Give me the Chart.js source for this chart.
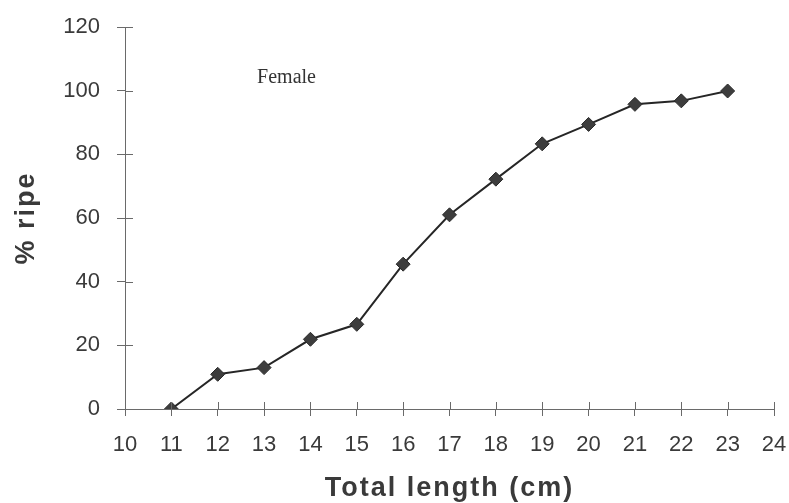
<!DOCTYPE html>
<html>
<head>
<meta charset="utf-8">
<script src="https://cdn.jsdelivr.net/npm/chart.js@4"></script>
<style>
    html, body { margin: 0; padding: 0; background: #fff; }
    #wrap { width: 789px; height: 503px; }
</style>
</head>
<body>
<div id="wrap"><canvas id="ripeChart" width="789" height="503"></canvas></div>
<script>
// total length classes (cm) and share of ripe females (%)
const lengthCm = [11, 12, 13, 14, 15, 16, 17, 18, 19, 20, 21, 22, 23];
const ripePct = [0, 10.9, 13.0, 21.9, 26.6, 45.5, 61.0, 72.2, 83.3, 89.4, 95.7, 96.8, 99.9];
const xRange = [10, 24];
const yRange = [0, 120];
const seriesLabel = 'Female';

const axisColor = '#6a6a6a';
const textColor = '#3a3a3a';

/* wider letter spacing for the bold axis titles only */
const titleSpacing = {
    id: 'titleSpacing',
    beforeDraw(chart) {
        chart.ctx.letterSpacing = '2px';
    },
    beforeDatasetsDraw(chart) {
        chart.ctx.letterSpacing = '0px';
    }
};

/* tick marks crossing into the plot area */
const innerTicks = {
    id: 'innerTicks',
    afterDatasetsDraw(chart) {
        const { ctx, scales: { x, y } } = chart;
        ctx.save();
        ctx.strokeStyle = axisColor;
        ctx.lineWidth = 1;
        ctx.beginPath();
        x.ticks.forEach(t => {
            const px = Math.round(x.getPixelForValue(t.value)) + 0.5;
            ctx.moveTo(px, y.bottom);
            ctx.lineTo(px, y.bottom - 7);
        });
        y.ticks.forEach(t => {
            const py = Math.round(y.getPixelForValue(t.value)) + 0.5;
            ctx.moveTo(x.left, py);
            ctx.lineTo(x.left + 8, py);
        });
        ctx.stroke();
        ctx.restore();
    }
};

/* series name written inside the plot */
const seriesNote = {
    id: 'seriesNote',
    afterDraw(chart) {
        const { ctx, scales: { x, y } } = chart;
        ctx.save();
        ctx.font = '20px "Liberation Serif", "Times New Roman", serif';
        ctx.fillStyle = '#333';
        ctx.textAlign = 'left';
        ctx.textBaseline = 'alphabetic';
        ctx.fillText(seriesLabel, x.getPixelForValue(12.85), y.getPixelForValue(102.3));
        ctx.restore();
    }
};

const points = lengthCm.map((v, i) => ({ x: v, y: ripePct[i] }));

new Chart(document.getElementById('ripeChart'), {
    type: 'scatter',
    data: {
        datasets: [{
            label: seriesLabel,
            data: points,
            showLine: true,
            borderColor: '#262626',
            borderWidth: 2,
            pointStyle: 'rectRot',
            pointRadius: 7,
            pointBackgroundColor: '#3d3d3d',
            pointBorderColor: '#2a2a2a',
            pointBorderWidth: 1
        }]
    },
    options: {
        responsive: false,
        animation: false,
        layout: {
            padding: { top: 27, right: 15, bottom: 0, left: 0 }
        },
        plugins: {
            legend: { display: false },
            tooltip: { enabled: false }
        },
        scales: {
            x: {
                type: 'linear',
                min: xRange[0],
                max: xRange[1],
                afterFit(scale) {
                    scale.height = 94;
                    scale.paddingLeft = 0;
                    scale.paddingRight = 0;
                },
                border: { color: axisColor, width: 1 },
                grid: {
                    drawOnChartArea: false,
                    color: axisColor,
                    tickLength: 7
                },
                ticks: {
                    stepSize: 1,
                    z: 1,
                    padding: 16,
                    color: textColor,
                    font: { family: '"Liberation Sans", Arial, sans-serif', size: 22 }
                },
                title: {
                    display: true,
                    text: 'Total length (cm)',
                    color: textColor,
                    padding: { top: 0, bottom: -2 },
                    font: { family: '"Liberation Sans", Arial, sans-serif', size: 27, weight: 'bold' }
                }
            },
            y: {
                min: yRange[0],
                max: yRange[1],
                afterFit(scale) {
                    scale.width = 125;
                    scale.paddingTop = 0;
                    scale.paddingBottom = 0;
                },
                border: { color: axisColor, width: 1 },
                grid: {
                    drawOnChartArea: false,
                    color: axisColor,
                    tickLength: 8
                },
                ticks: {
                    stepSize: 20,
                    z: 1,
                    padding: 17,
                    color: textColor,
                    font: { family: '"Liberation Sans", Arial, sans-serif', size: 22 }
                },
                title: {
                    display: true,
                    text: '% ripe',
                    color: textColor,
                    padding: { top: 10, bottom: 0 },
                    font: { family: '"Liberation Sans", Arial, sans-serif', size: 27, weight: 'bold' }
                }
            }
        }
    },
    plugins: [titleSpacing, innerTicks, seriesNote]
});
</script>
</body>
</html>
